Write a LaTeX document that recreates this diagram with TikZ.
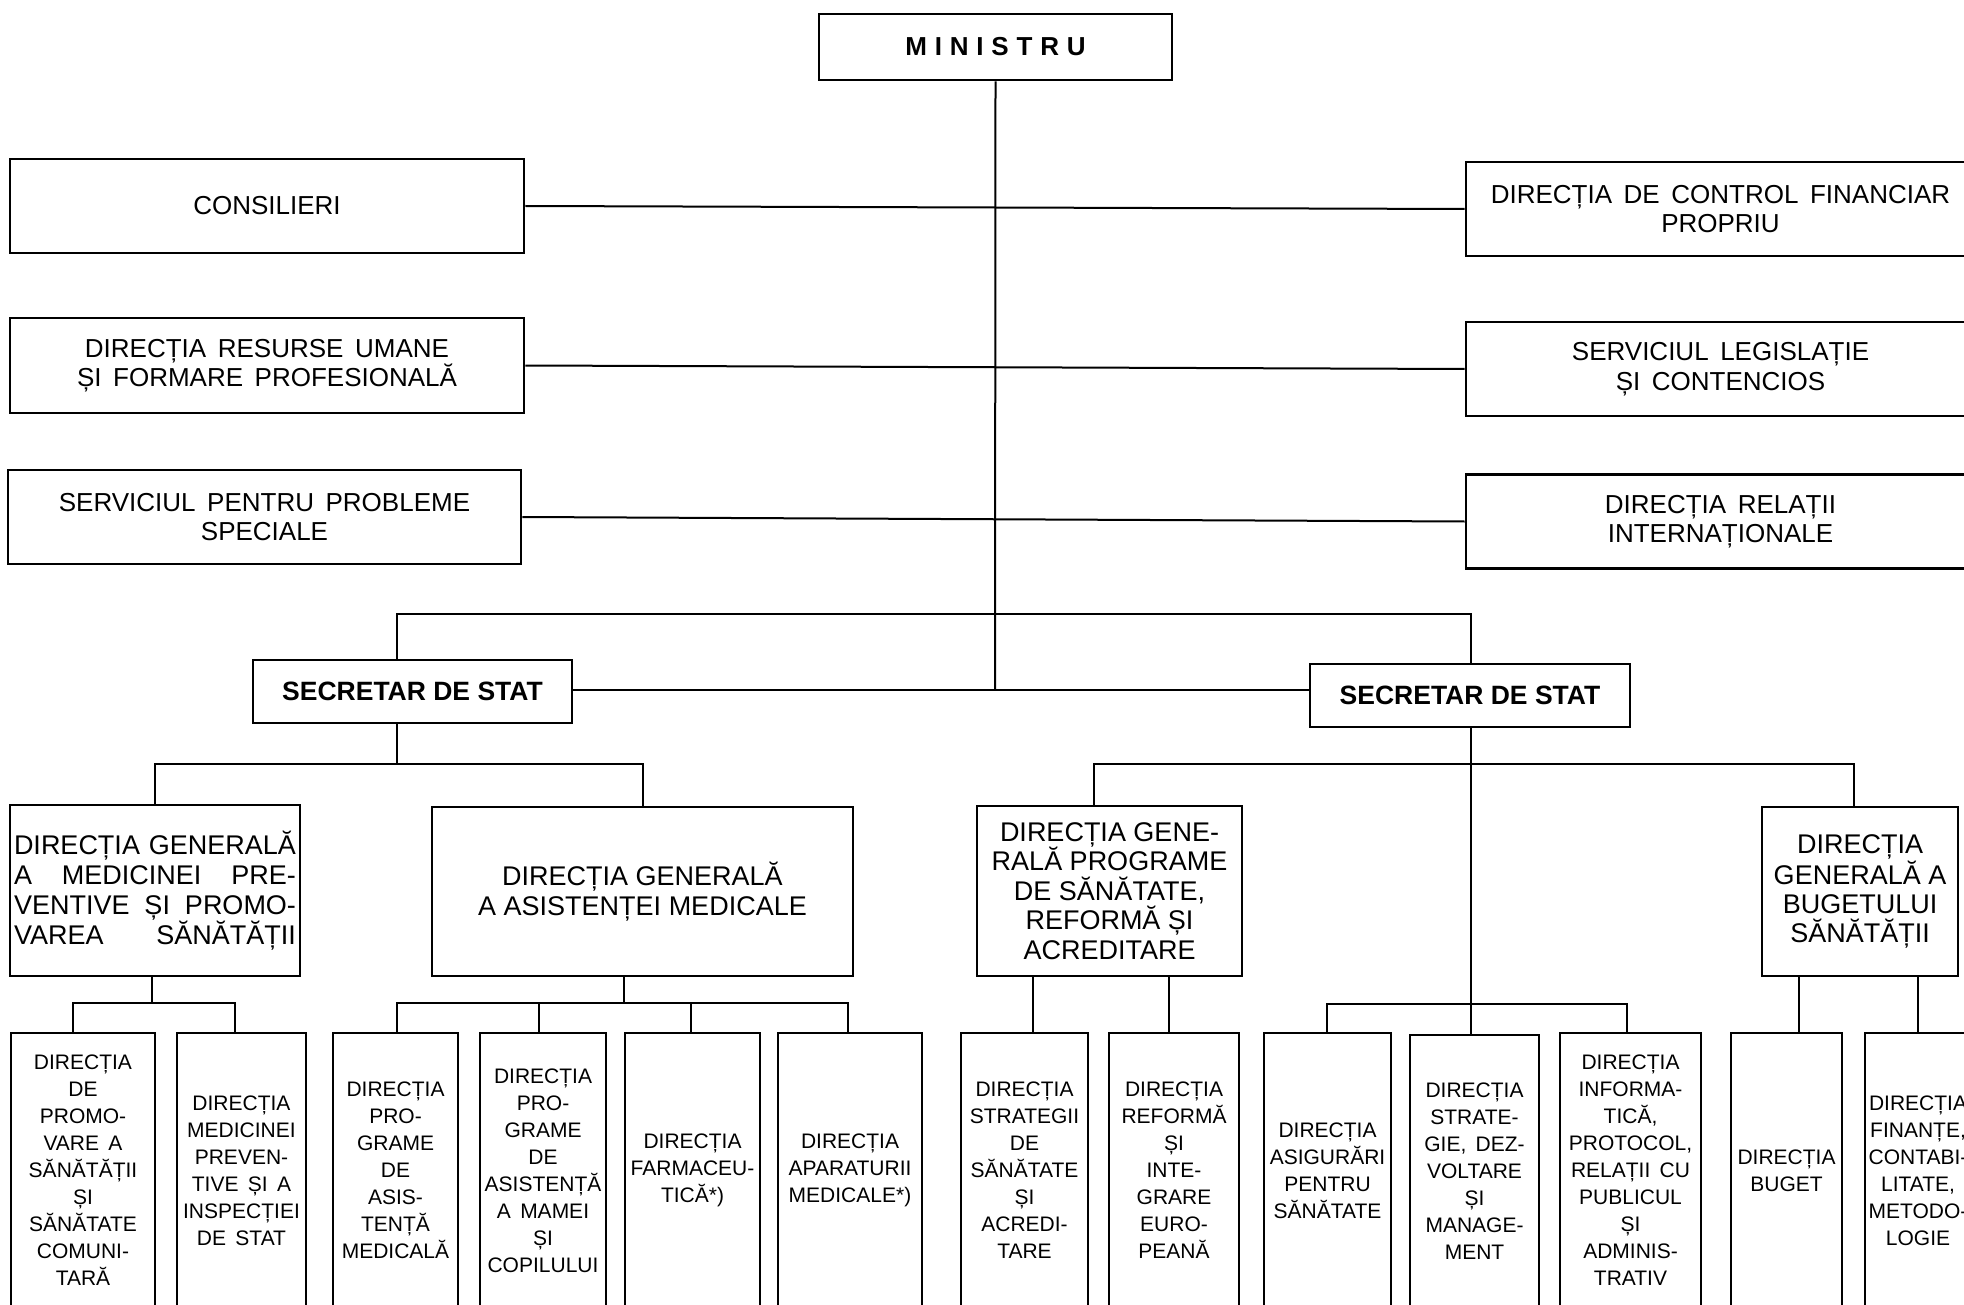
\documentclass[tikz,border=0pt]{standalone}
\usepackage{fontspec}
\setmainfont{Liberation Sans}
\newfontfamily\topf{Liberation Sans}[WordSpace=2.2]
\newfontfamily\botf{Liberation Sans}[WordSpace=1.6]
\newcommand\fsz[2]{\fontsize{#1}{#2}\selectfont}
\newcommand\lsp{\hspace{7.8pt}}
\newcommand\jl[1]{\makebox[282pt][s]{#1}}
\begin{document}
\begin{tikzpicture}[x=1pt,y=-1pt,
  box/.style={draw, line width=2.6pt, inner sep=0pt, align=center},
  conn/.style={line width=2pt},
  topbox/.style={box, font=\topf\fsz{26}{29.5}, minimum height=94pt},
  dgbox/.style={box, font=\fsz{27}{30}},
  botbox/.style={box, font=\botf\fsz{21}{27}, minimum height=275pt},
  secbox/.style={box, font=\bfseries\fsz{26.5}{30}, minimum width=319pt, minimum height=63pt},
]
\useasboundingbox (0,0) rectangle (1964,1305);

% top
\node[box, font=\bfseries\fsz{26}{30}, minimum width=353pt, minimum height=66pt] (min) at (995.5,47) {M\lsp I\lsp N\lsp I\lsp S\lsp T\lsp R\lsp U};

\node[topbox, minimum width=514pt] (cons) at (267,206) {CONSILIERI};
\node[topbox, minimum width=514pt, minimum height=95pt] (res) at (267,365.5) {DIRECȚIA RESURSE UMANE\\ȘI FORMARE PROFESIONALĂ};
\node[topbox, minimum width=513pt] (prob) at (264.5,517) {SERVICIUL PENTRU PROBLEME\\SPECIALE};

\node[topbox, minimum width=509pt] (ctrl) at (1720.5,209) {DIRECȚIA DE CONTROL FINANCIAR\\PROPRIU};
\node[topbox, minimum width=509pt] (leg) at (1720.5,369) {SERVICIUL LEGISLAȚIE\\ȘI CONTENCIOS};
\node[topbox, minimum width=509pt] (rel) at (1720.5,521.5) {DIRECȚIA RELAȚII\\INTERNAȚIONALE};

% secretari
\node[secbox] (sl) at (412.5,691.5) {SECRETAR DE STAT};
\node[secbox, minimum width=320pt] (sr) at (1470,695.5) {SECRETAR DE STAT};

% directii generale
\node[dgbox, minimum width=290pt, minimum height=171pt] (dgl1) at (155,890.5)
  {\jl{DIRECȚIA GENERALĂ}\\\jl{A MEDICINEI PRE-}\\\jl{VENTIVE ȘI PROMO-}\\\jl{VAREA SĂNĂTĂȚII}};
\node[dgbox, minimum width=421pt, minimum height=169pt] (dgl2) at (642.5,891.5)
  {DIRECȚIA GENERALĂ\\A ASISTENȚEI MEDICALE};
\node[dgbox, font=\fsz{27}{29.5}, minimum width=265pt, minimum height=170pt] (dgr1) at (1109.5,891)
  {DIRECȚIA GENE-\\RALĂ PROGRAME\\DE SĂNĂTATE,\\REFORMĂ ȘI\\ACREDITARE};
\node[dgbox, font=\fsz{27}{29}, minimum width=196pt, minimum height=169pt] (dgr2) at (1860,891.5)
  {DIRECȚIA\\GENERALĂ A\\BUGETULUI\\SĂNĂTĂȚII};

% bottom row
\node[botbox, minimum width=144pt] (b1) at (83,1170.5)
  {DIRECȚIA\\DE\\PROMO-\\VARE A\\SĂNĂTĂȚII\\ȘI\\SĂNĂTATE\\COMUNI-\\TARĂ};
\node[botbox, minimum width=129pt] (b2) at (241.5,1170.5)
  {DIRECȚIA\\MEDICINEI\\PREVEN-\\TIVE ȘI A\\INSPECȚIEI\\DE STAT};
\node[botbox, minimum width=125pt] (b3) at (395.5,1170.5)
  {DIRECȚIA\\PRO-\\GRAME\\DE\\ASIS-\\TENȚĂ\\MEDICALĂ};
\node[botbox, minimum width=126pt] (b4) at (543,1170.5)
  {DIRECȚIA\\PRO-\\GRAME\\DE\\ASISTENȚĂ\\A MAMEI\\ȘI\\COPILULUI};
\node[botbox, minimum width=135pt] (b5) at (692.5,1170.5)
  {DIRECȚIA\\FARMACEU-\\TICĂ*)};
\node[botbox, minimum width=144pt] (b6) at (850,1170.5)
  {DIRECȚIA\\APARATURII\\MEDICALE*)};
\node[botbox, minimum width=127pt] (b7) at (1024.5,1170.5)
  {DIRECȚIA\\STRATEGII\\DE\\SĂNĂTATE\\ȘI\\ACREDI-\\TARE};
\node[botbox, minimum width=130pt] (b8) at (1174,1170.5)
  {DIRECȚIA\\REFORMĂ\\ȘI\\INTE-\\GRARE\\EURO-\\PEANĂ};
\node[botbox, minimum width=127pt] (b9) at (1327.5,1170.5)
  {DIRECȚIA\\ASIGURĂRI\\PENTRU\\SĂNĂTATE};
\node[botbox, minimum width=129pt, minimum height=273pt] (b10) at (1474.5,1171.5)
  {DIRECȚIA\\STRATE-\\GIE, DEZ-\\VOLTARE\\ȘI\\MANAGE-\\MENT};
\node[botbox, minimum width=141pt] (b11) at (1630.5,1170.5)
  {DIRECȚIA\\INFORMA-\\TICĂ,\\PROTOCOL,\\RELAȚII CU\\PUBLICUL\\ȘI\\ADMINIS-\\TRATIV};
\node[botbox, minimum width=111pt] (b12) at (1786.5,1170.5)
  {DIRECȚIA\\BUGET};
\node[botbox, minimum width=106pt] (b13) at (1918,1170.5)
  {DIRECȚIA\\FINANȚE,\\CONTABI-\\LITATE,\\METODO-\\LOGIE};

% junction coordinates
\coordinate (mj) at (995,690);
\coordinate (tl) at (397,614);
\coordinate (tr) at (1471,614);
\coordinate (hl) at (397,764);
\coordinate (cr1) at (1094,764);
\coordinate (cr2) at (1854,764);
\coordinate (br) at (1471,1004);
\coordinate (q9) at (1327,1004);
\coordinate (q11) at (1627,1004);
\coordinate (p1) at (152,1003);
\coordinate (p1a) at (73,1003);
\coordinate (p1b) at (235,1003);
\coordinate (p2) at (624,1003);
\coordinate (p3) at (397,1003);
\coordinate (p4) at (539,1003);
\coordinate (p5) at (691,1003);
\coordinate (p6) at (848,1003);
\coordinate (p7) at (1033,1003);
\coordinate (p8) at (1169,1003);
\coordinate (p12) at (1799,1003);
\coordinate (p13) at (1918,1003);

% connectors top
\draw[conn] (min.south) -- (mj);
\draw[conn] (cons.east) -- (ctrl.west);
\draw[conn] (res.east) -- (leg.west);
\draw[conn] (prob.east) -- (rel.west);
\draw[conn] (sl.east |- mj) -- (sr.west |- mj);
\draw[conn] (sl.north -| tl) -- (tl) -- (tr) -- (sr.north -| tr);

% left secretar
\draw[conn] (sl.south -| hl) -- (hl);
\draw[conn] (dgl1.north) -- (dgl1.north |- hl) -- (dgl2.north |- hl) -- (dgl2.north);

% right secretar
\draw[conn] (sr.south -| tr) -- (br);
\draw[conn] (dgr1.north -| cr1) -- (cr1) -- (cr2) -- (dgr2.north -| cr2);
\draw[conn] (b9.north -| q9) -- (q9) -- (q11) -- (b11.north -| q11);
\draw[conn] (br) -- (b10.north -| br);

% bottom connectors
\draw[conn] (dgl1.south -| p1) -- (p1);
\draw[conn] (b1.north -| p1a) -- (p1a) -- (p1b) -- (b2.north -| p1b);
\draw[conn] (dgl2.south -| p2) -- (p2);
\draw[conn] (b3.north -| p3) -- (p3) -- (p6) -- (b6.north -| p6);
\draw[conn] (p4) -- (b4.north -| p4);
\draw[conn] (p5) -- (b5.north -| p5);
\draw[conn] (dgr1.south -| p7) -- (b7.north -| p7);
\draw[conn] (dgr1.south -| p8) -- (b8.north -| p8);
\draw[conn] (dgr2.south -| p12) -- (b12.north -| p12);
\draw[conn] (dgr2.south -| p13) -- (b13.north -| p13);
\end{tikzpicture}
\end{document}
